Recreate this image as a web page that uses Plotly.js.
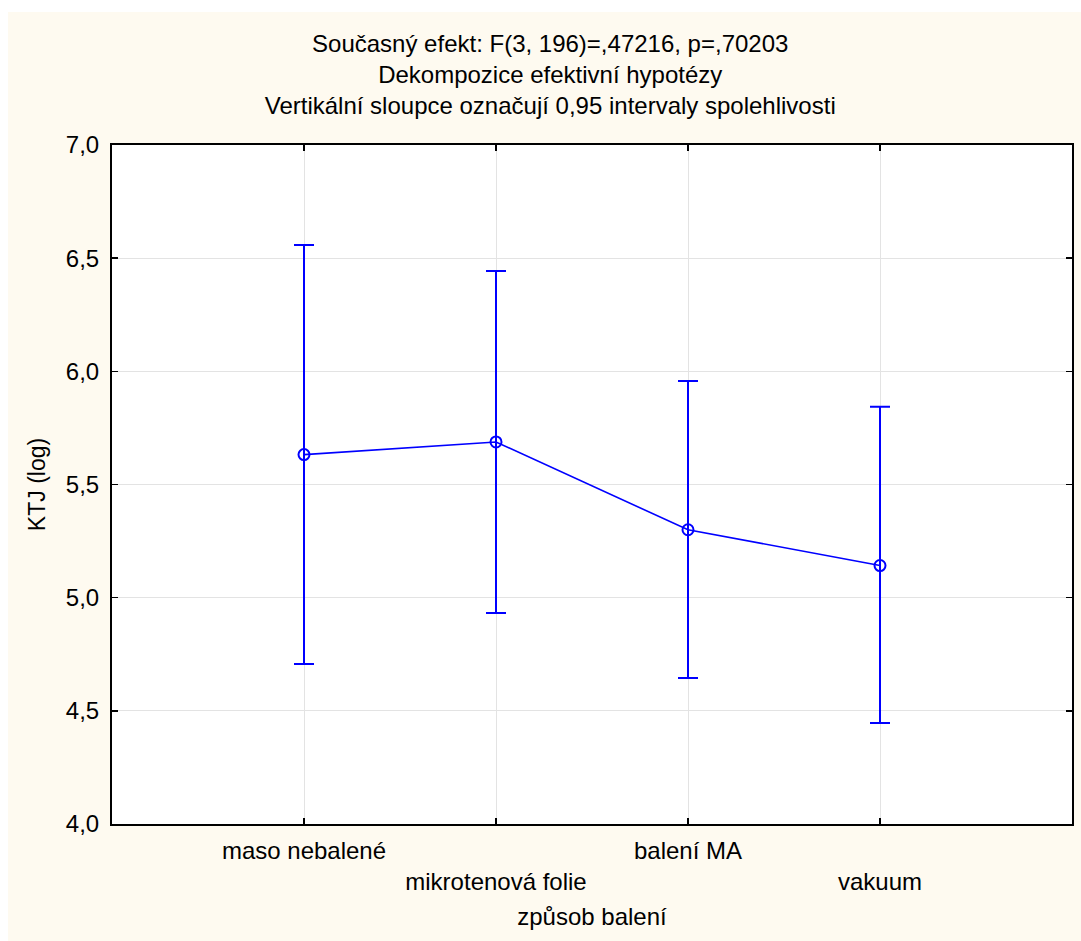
<!DOCTYPE html>
<html>
<head>
<meta charset="utf-8">
<script src="https://cdn.plot.ly/plotly-3.0.1.min.js"></script>
<style>html,body{margin:0;padding:0;background:#fff;}#chart{width:1081px;height:941px;}</style>
</head>
<body>
<div id="chart"></div>
<script>
// Data
const categories = ["maso nebalené", "mikrotenová folie", "balení MA", "vakuum"];
const tickLabels = ["maso nebalené", "<br>mikrotenová folie", "balení MA", "<br>vakuum"];
const means = [5.632, 5.688, 5.300, 5.142];
const upperCI = [6.558, 6.443, 5.957, 5.843];
const lowerCI = [4.707, 4.932, 4.645, 4.446];
const yTicks = [4.0, 4.5, 5.0, 5.5, 6.0, 6.5, 7.0];

const errPlus = means.map((m, i) => upperCI[i] - m);
const errMinus = means.map((m, i) => m - lowerCI[i]);

const FONT = "Liberation Sans, Arial, sans-serif";
const BLUE = "#0000ff";

const trace = {
  type: "scatter",
  mode: "lines+markers",
  x: categories,
  y: means,
  line: {color: BLUE, width: 1.6},
  marker: {symbol: "circle-open", size: 11, color: BLUE, line: {color: BLUE, width: 2}},
  error_y: {type: "data", symmetric: false, array: errPlus, arrayminus: errMinus,
            color: BLUE, thickness: 2, width: 10},
  hoverinfo: "x+y",
  showlegend: false
};

const layout = {
  width: 1081, height: 941,
  margin: {l: 112, r: 9, t: 145, b: 117},
  paper_bgcolor: "#ffffff",
  plot_bgcolor: "rgba(0,0,0,0)",
  separators: ",.",
  font: {family: FONT, color: "#000", size: 23},
  title: {
    text: "Současný efekt: F(3, 196)=,47216, p=,70203<br>Dekompozice efektivní hypotézy<br>Vertikální sloupce označují 0,95 intervaly spolehlivosti",
    font: {family: FONT, size: 24, color: "#000"},
    xref: "container", x: 0.509, xanchor: "center",
    yref: "container", y: 1 - 52/941, yanchor: "top"
  },
  xaxis: {
    type: "category",
    range: [-1, 4],
    tickmode: "array",
    tickvals: categories,
    ticktext: tickLabels,
    tickfont: {family: FONT, size: 24, color: "#000"},
    showgrid: true, gridcolor: "#e3e3e3", gridwidth: 1,
    showline: true, linecolor: "#000", linewidth: 2, mirror: "ticks",
    ticks: "inside", ticklen: 6, tickwidth: 1.5, tickcolor: "#000",
    ticklabelstandoff: 4,
    zeroline: false,
    title: {text: "způsob balení", font: {family: FONT, size: 24, color: "#000"}, standoff: 14}
  },
  yaxis: {
    range: [4, 7],
    tickmode: "array",
    tickvals: yTicks,
    tickformat: ".1f",
    tickfont: {family: FONT, size: 24, color: "#000"},
    showgrid: true, gridcolor: "#e3e3e3", gridwidth: 1,
    showline: true, linecolor: "#000", linewidth: 2, mirror: "ticks",
    ticks: "inside", ticklen: 6, tickwidth: 1.5, tickcolor: "#000",
    ticklabelstandoff: 6,
    zeroline: false,
    title: {text: "KTJ (log)", font: {family: FONT, size: 23, color: "#000"}, standoff: 14}
  },
  shapes: [
    {type: "rect", xref: "paper", yref: "paper", layer: "below",
     x0: (8 - 112) / 960, x1: (1081 - 112) / 960,
     y0: (824 - 941) / 679, y1: (824 - 12) / 679,
     fillcolor: "#fefaf0", line: {width: 0}},
    {type: "rect", xref: "paper", yref: "paper", layer: "below",
     x0: 0, x1: 1, y0: 0, y1: 1,
     fillcolor: "#ffffff", line: {width: 0}}
  ]
};

Plotly.newPlot("chart", [trace], layout, {displayModeBar: false, staticPlot: true});
</script>
</body>
</html>
